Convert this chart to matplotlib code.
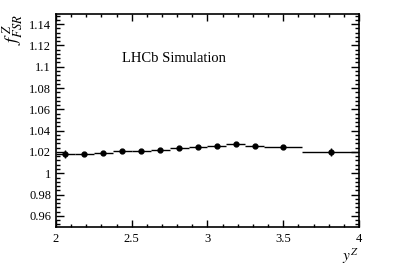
import numpy as np
import matplotlib.pyplot as plt
from matplotlib.ticker import MultipleLocator

plt.rcParams['font.family'] = ['Liberation Serif', 'DejaVu Serif']
plt.rcParams['mathtext.fontset'] = 'stix'

# Bin edges in y^Z and the FSR correction factor per bin
bin_edges = [2.0, 2.125, 2.25, 2.375, 2.5, 2.625, 2.75, 2.875, 3.0,
             3.125, 3.25, 3.375, 3.625, 4.0]
f_fsr = [1.018, 1.018, 1.019, 1.021, 1.021, 1.022, 1.024, 1.025,
         1.026, 1.027, 1.026, 1.025, 1.020]
f_err = [0.004, 0.001, 0.001, 0.001, 0.001, 0.001, 0.001, 0.001,
         0.001, 0.001, 0.001, 0.001, 0.004]

edges = np.array(bin_edges)
centers = 0.5 * (edges[1:] + edges[:-1])
half_w = 0.5 * (edges[1:] - edges[:-1])

fig = plt.figure(figsize=(3.99, 2.70), dpi=100)
ax = fig.add_axes([0.1404, 0.1611, 0.7593, 0.7889])

ax.errorbar(centers, f_fsr, xerr=half_w, yerr=f_err, fmt='o', color='black',
            markersize=3.5, elinewidth=1.0, capsize=0)

ax.set_xlim(2, 4)
ax.set_ylim(0.95, 1.15)
ax.xaxis.set_major_locator(MultipleLocator(0.5))
ax.xaxis.set_minor_locator(MultipleLocator(0.1))
ax.yaxis.set_major_locator(MultipleLocator(0.02))
ax.yaxis.set_minor_locator(MultipleLocator(0.004))
ax.set_xticks([2, 2.5, 3, 3.5, 4], ['2', '2.5', '3', '3.5', '4'])
ax.set_yticks(np.arange(0.96, 1.141, 0.02),
              ['0.96', '0.98', '1', '1.02', '1.04', '1.06', '1.08', '1.1', '1.12', '1.14'])

ax.tick_params(axis='both', which='both', direction='in', top=True, right=True,
               labelsize=9, width=1.0)
ax.tick_params(axis='y', which='major', length=6)
ax.tick_params(axis='y', which='minor', length=3)
ax.tick_params(axis='x', which='major', length=5, pad=5)
ax.tick_params(axis='x', which='minor', length=2.5)
for s in ax.spines.values():
    s.set_linewidth(1.2)

ax.text(2.435, 1.108, 'LHCb Simulation', fontsize=10.5, va='center', ha='left')

ax.set_xlabel(r'$y^{Z}$', fontsize=11, loc='right', labelpad=1)
ax.set_ylabel(r'$f^{\,Z}_{FSR}$', fontsize=13, loc='top', labelpad=3)

fig.savefig('out.png', dpi=100)
